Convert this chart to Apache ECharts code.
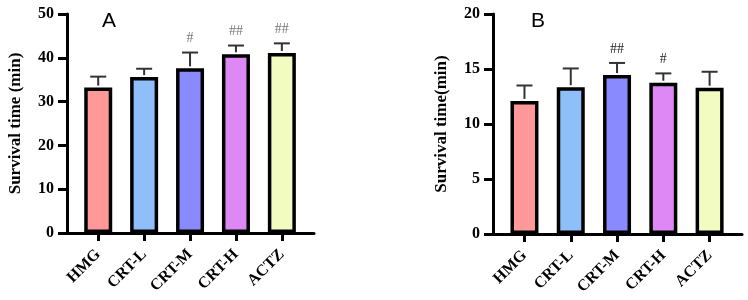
<!DOCTYPE html>
<html>
<head>
<meta charset="utf-8">
<script src="https://cdn.jsdelivr.net/npm/echarts@6/dist/echarts.min.js"></script>
<style>
  html, body { margin: 0; padding: 0; background: #fff; }
  #chart { width: 748px; height: 300px; }
</style>
</head>
<body>
<div id="chart"></div>
<script>
  var categories = ['HMG', 'CRT-L', 'CRT-M', 'CRT-H', 'ACTZ'];
  var barColors = ['#ff9999', '#8fbff8', '#8a8aff', '#dd88f5', '#f3fcc0'];

  // panel A
  var meanA = [33.2, 35.6, 37.6, 40.8, 41.1];
  var sdA = [2.5, 1.9, 3.6, 2.0, 2.2];
  var signifA = ['', '', '#', '##', '##'];
  var yTicksA = [0, 10, 20, 30, 40, 50];

  // panel B
  var meanB = [12.1, 13.35, 14.45, 13.75, 13.3];
  var sdB = [1.4, 1.7, 1.1, 0.85, 1.45];
  var signifB = ['', '', '##', '#', ''];
  var yTicksB = [0, 5, 10, 15, 20];

  var idx = categories.map(function (c, i) { return i; });
  var serif = '"Liberation Serif", "DejaVu Serif", serif';
  var xMin = -0.68, xMax = 4.7;

  function xAxisOf(gridIndex) {
    return {
      type: 'value',
      gridIndex: gridIndex,
      min: xMin,
      max: xMax,
      splitLine: { show: false },
      axisLine: { show: true, lineStyle: { color: '#000', width: 3 } },
      axisTick: { show: true, customValues: idx, length: 8, lineStyle: { color: '#000', width: 3 } },
      axisLabel: {
        customValues: idx,
        rotate: 45,
        margin: 19,
        color: '#000',
        fontFamily: serif,
        fontWeight: 'bold',
        fontSize: 16,
        formatter: function (v) { return categories[Math.round(v)]; }
      }
    };
  }

  function yAxisOf(gridIndex, ticks, name) {
    return {
      type: 'value',
      gridIndex: gridIndex,
      min: ticks[0],
      max: ticks[ticks.length - 1],
      interval: ticks[1] - ticks[0],
      name: name,
      nameLocation: 'middle',
      nameRotate: 90,
      nameGap: 43,
      nameTextStyle: { color: '#000', fontFamily: serif, fontWeight: 'bold', fontSize: 17 },
      splitLine: { show: false },
      axisLine: { show: true, onZero: false, lineStyle: { color: '#000', width: 3 } },
      axisTick: { show: true, length: 9, lineStyle: { color: '#000', width: 3 } },
      axisLabel: { color: '#000', fontFamily: serif, fontWeight: 'bold', fontSize: 16, margin: 13 }
    };
  }

  function barSeries(gridIndex, mean) {
    return {
      type: 'bar',
      xAxisIndex: gridIndex,
      yAxisIndex: gridIndex,
      barWidth: 28,
      z: 2,
      data: mean.map(function (m, i) {
        return { value: [i, m], itemStyle: { color: barColors[i], borderColor: '#000', borderWidth: 3.5 } };
      })
    };
  }

  function errSeries(gridIndex, mean, sd, signif, hashColor) {
    return {
      type: 'custom',
      xAxisIndex: gridIndex,
      yAxisIndex: gridIndex,
      z: 3,
      data: mean.map(function (m, i) { return [i, m, m + sd[i]]; }),
      renderItem: function (params, api) {
        var base = api.coord([api.value(0), api.value(1)]);
        var top = api.coord([api.value(0), api.value(2)]);
        var label = signif[params.dataIndex];
        var children = [
          { type: 'line', shape: { x1: top[0], y1: base[1] - 2, x2: top[0], y2: top[1] },
            style: { stroke: '#333', lineWidth: 2 } },
          { type: 'line', shape: { x1: top[0] - 8, y1: top[1], x2: top[0] + 8, y2: top[1] },
            style: { stroke: '#333', lineWidth: 2 } }
        ];
        if (label) {
          children.push({
            type: 'text',
            style: { text: label, x: top[0], y: top[1] - 14, align: 'center', verticalAlign: 'middle',
                     fill: hashColor, font: '14px ' + serif }
          });
        }
        return { type: 'group', children: children };
      }
    };
  }

  var chart = echarts.init(document.getElementById('chart'));
  chart.setOption({
    backgroundColor: '#fff',
    animation: false,
    title: [
      { text: 'A', left: 97, top: 6, textStyle: { fontFamily: '"Liberation Sans", Arial, sans-serif', fontWeight: 'normal', fontSize: 21, color: '#000' } },
      { text: 'B', left: 526, top: 6, textStyle: { fontFamily: '"Liberation Sans", Arial, sans-serif', fontWeight: 'normal', fontSize: 21, color: '#000' } }
    ],
    grid: [
      { left: 67, top: 14, width: 247, height: 219 },
      { left: 493, top: 14, width: 249, height: 220 }
    ],
    xAxis: [xAxisOf(0), xAxisOf(1)],
    yAxis: [yAxisOf(0, yTicksA, 'Survival time (min)'), yAxisOf(1, yTicksB, 'Survival time(min)')],
    series: [
      barSeries(0, meanA),
      errSeries(0, meanA, sdA, signifA, '#777'),
      barSeries(1, meanB),
      errSeries(1, meanB, sdB, signifB, '#222')
    ]
  });
</script>
</body>
</html>
